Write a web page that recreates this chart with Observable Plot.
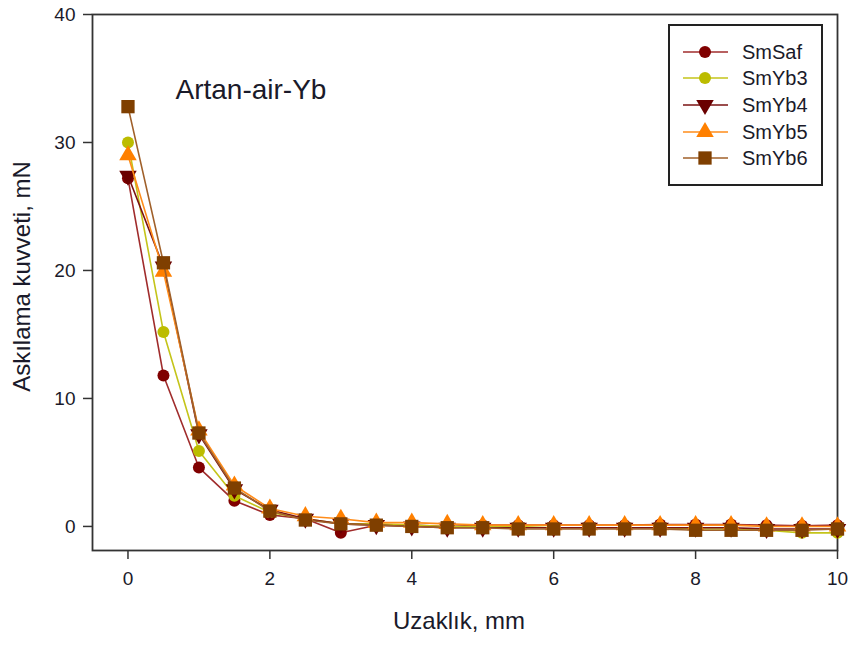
<!DOCTYPE html>
<html>
<head>
<meta charset="utf-8">
<script src="https://cdn.jsdelivr.net/npm/d3@7"></script>
<script src="https://cdn.jsdelivr.net/npm/@observablehq/plot@0.6"></script>
<style>
  body { margin: 0; background: #fff; font-family: "Liberation Sans", Arial, sans-serif; }
  #wrap { position: relative; width: 849px; height: 646px; }
  #legend { position: absolute; left: 668px; top: 24px; width: 151px; height: 158px; border: 2px solid #222; background: #fff; }
  #legend .row { position: absolute; left: 0; height: 26px; display: flex; align-items: center; }
  #legend .row span { font-size: 20px; color: #1a1a2a; margin-left: 12px; }
</style>
</head>
<body>
<div id="wrap"><div id="legend"></div></div>
<script>
const distance = [0, 0.5, 1, 1.5, 2, 2.5, 3, 3.5, 4, 4.5, 5, 5.5, 6, 6.5, 7, 7.5, 8, 8.5, 9, 9.5, 10];
const seriesNames = ["SmSaf", "SmYb3", "SmYb4", "SmYb5", "SmYb6"];
const smSaf = [27.2, 11.8, 4.6, 2.0, 0.9, 0.6, -0.5, 0.1, 0.1, 0.0, 0.1, 0.1, 0.1, 0.1, 0.1, 0.15, 0.15, 0.15, 0.1, 0.05, 0.1];
const smYb3 = [30.0, 15.2, 5.9, 2.4, 1.1, 0.6, 0.2, 0.2, 0.1, 0.0, 0.0, 0.0, -0.1, -0.1, -0.1, -0.1, -0.2, -0.2, -0.3, -0.5, -0.5];
const smYb4 = [27.4, 20.3, 7.2, 2.9, 1.3, 0.6, 0.2, 0.1, 0.0, -0.1, -0.1, -0.1, -0.1, -0.1, -0.1, -0.1, -0.1, -0.1, -0.2, -0.2, -0.2];
const smYb5 = [29.0, 19.9, 7.5, 3.2, 1.4, 0.8, 0.6, 0.3, 0.3, 0.2, 0.1, 0.1, 0.1, 0.1, 0.1, 0.1, 0.1, 0.1, 0.0, 0.0, 0.0];
const smYb6 = [32.8, 20.6, 7.3, 3.0, 1.2, 0.5, 0.2, 0.1, 0.0, -0.1, -0.1, -0.2, -0.2, -0.2, -0.2, -0.2, -0.3, -0.3, -0.3, -0.3, -0.2];
const xTicks = [0, 2, 4, 6, 8, 10];
const yTicks = [0, 10, 20, 30, 40];
const titleText = "Artan-air-Yb";
const xLabel = "Uzaklık, mm";
const yLabel = "Askılama kuvveti, mN";

const values = [smSaf, smYb3, smYb4, smYb5, smYb6];
const styles = [
  {line: "#a02c2c", fill: "#800000", symbol: "circle", rotate: 0, r: 6},
  {line: "#c4c41a", fill: "#bcbc00", symbol: "circle", rotate: 0, r: 6},
  {line: "#7a1212", fill: "#6a0000", symbol: "triangle", rotate: 180, r: 6.5},
  {line: "#ff8c1a", fill: "#ff8000", symbol: "triangle", rotate: 0, r: 6.5},
  {line: "#a0602a", fill: "#7f3f00", symbol: "square", rotate: 0, r: 7.5}
];

const marks = [];
values.forEach((vals, i) => {
  const data = distance.map((d, j) => ({x: d, y: vals[j], s: seriesNames[i]}));
  const st = styles[i];
  marks.push(Plot.line(data, {x: "x", y: "y", stroke: st.line, strokeWidth: 1.6}));
  marks.push(Plot.dot(data, {x: "x", y: "y", symbol: st.symbol, r: st.r, fill: st.fill, stroke: "none", rotate: st.rotate}));
});

const chart = Plot.plot({
  width: 849,
  height: 646,
  marginLeft: 92,
  marginRight: 12,
  marginTop: 14,
  marginBottom: 96,
  style: {fontFamily: "Liberation Sans, Arial, sans-serif", color: "#1a1a2a", background: "#fff"},
  x: {domain: [-0.5, 10]},
  y: {domain: [-1.88, 40]},
  marks: [
    Plot.frame({stroke: "#333", strokeWidth: 1.8}),
    Plot.axisX({ticks: xTicks, tickSize: 9, tickPadding: 12, fontSize: 19, label: null, stroke: "#333", strokeWidth: 1.5}),
    Plot.axisY({ticks: yTicks, tickSize: 9, tickPadding: 8, fontSize: 19, label: null, stroke: "#333", strokeWidth: 1.5}),
    Plot.text([xLabel], {text: d => d, frameAnchor: "bottom", dx: -6, dy: 78, fontSize: 24, fill: "#1a1a2a"}),
    Plot.text([yLabel], {text: d => d, frameAnchor: "left", textAnchor: "middle", dx: -70, dy: -6, rotate: -90, fontSize: 24, fill: "#1a1a2a"}),
    Plot.text([titleText], {text: d => d, frameAnchor: "top-left", dx: 83, dy: 76, textAnchor: "start", lineAnchor: "middle", fontSize: 28, fill: "#1a1a2a"}),
    ...marks
  ]
});
const wrap = document.getElementById("wrap");
wrap.insertBefore(chart, wrap.firstChild);

// legend
const legend = document.getElementById("legend");
const rowTops = [13, 39, 66, 93, 119];
seriesNames.forEach((name, i) => {
  const st = styles[i];
  const row = document.createElement("div");
  row.className = "row";
  row.style.top = rowTops[i] + "px";
  const svg = d3.create("svg").attr("width", 60).attr("height", 26);
  svg.append("line").attr("x1", 13).attr("x2", 58).attr("y1", 13).attr("y2", 13)
    .attr("stroke", st.line).attr("stroke-width", 1.6);
  const symType = st.symbol === "circle" ? d3.symbolCircle : st.symbol === "square" ? d3.symbolSquare : d3.symbolTriangle;
  svg.append("path").attr("d", d3.symbol(symType, Math.PI * st.r * st.r)())
    .attr("transform", `translate(35,13) rotate(${st.rotate})`)
    .attr("fill", st.fill);
  row.appendChild(svg.node());
  const label = document.createElement("span");
  label.textContent = name;
  row.appendChild(label);
  legend.appendChild(row);
});
</script>
</body>
</html>
